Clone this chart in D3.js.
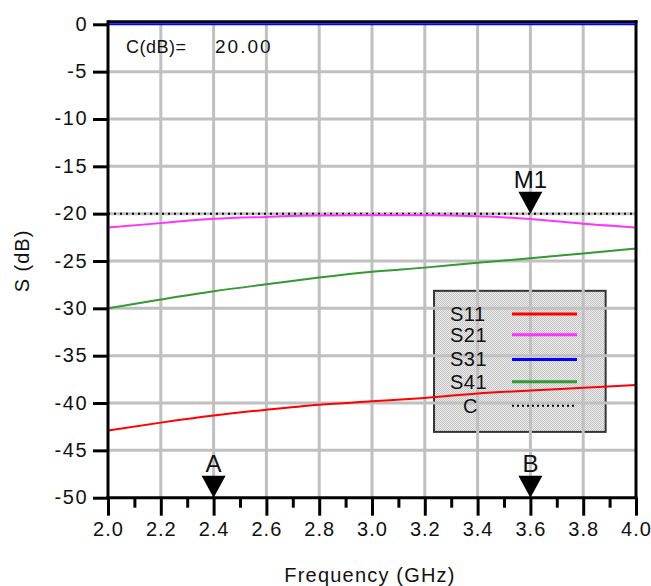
<!DOCTYPE html>
<html><head><meta charset="utf-8">
<script src="https://cdn.jsdelivr.net/npm/d3@7"></script>
<style>
html,body{margin:0;padding:0;background:#fff;}
text{font-family:"Liberation Sans",Arial,sans-serif;fill:#111;}
</style></head>
<body><svg id="c" width="651" height="586"></svg>
<script>
const freq = [2.0,2.2,2.4,2.6,2.8,3.0,3.2,3.4,3.6,3.8,4.0];
const s11 = [-42.9,-42.07,-41.32,-40.71,-40.18,-39.82,-39.46,-39.0,-38.68,-38.39,-38.1];
const s21 = [-21.46,-21.0,-20.54,-20.34,-20.2,-20.18,-20.18,-20.27,-20.57,-21.07,-21.46];
const s31 = [0,0,0,0,0,0,0,0,0,0,0];
const s41 = [-30.0,-29.07,-28.2,-27.46,-26.75,-26.14,-25.7,-25.18,-24.72,-24.2,-23.68];
const cLevel = -20;
const xTicks = [2.0,2.2,2.4,2.6,2.8,3.0,3.2,3.4,3.6,3.8,4.0];
const xMinor = [2.1,2.3,2.5,2.7,2.9,3.1,3.3,3.5,3.7,3.9];
const yTicks = [0,-5,-10,-15,-20,-25,-30,-35,-40,-45,-50];
const seriesNames = ["S11","S21","S31","S41","C"];
const seriesColors = ["#ff0000","#ff33ff","#0000ff","#339933","#000000"];
const markers = [{name:"A",f:2.4,v:-50},{name:"B",f:3.6,v:-50},{name:"M1",f:3.6,v:-20}];
const readoutLabel = "C(dB)=";
const readoutValue = "20.00";

const svg = d3.select("#c");
const x = d3.scaleLinear().domain([2.0,4.0]).range([108,636]);
const y = d3.scaleLinear().domain([0,-50]).range([24.3,497.7]);

const defs = svg.append("defs");
const pat = defs.append("pattern").attr("id","hatch").attr("width",2).attr("height",2).attr("patternUnits","userSpaceOnUse");
pat.append("rect").attr("width",2).attr("height",2).attr("fill","#ececec");
pat.append("rect").attr("width",1).attr("height",1).attr("fill","#c4c4c4");
pat.append("rect").attr("x",1).attr("y",1).attr("width",1).attr("height",1).attr("fill","#c4c4c4");

const legX0 = x(3.235), legX1 = x(3.885), legY0 = y(-28.15), legY1 = y(-43.05);
svg.append("rect").attr("x",legX0).attr("y",legY0).attr("width",legX1-legX0).attr("height",legY1-legY0)
  .attr("fill","url(#hatch)").attr("stroke","#333").attr("stroke-width",2);

const grid = svg.append("g").attr("stroke","#c0c0c0").attr("stroke-width",3);
xTicks.slice(1,-1).forEach(t=>grid.append("line").attr("x1",x(t)).attr("x2",x(t)).attr("y1",y(0)).attr("y2",y(-50)));
yTicks.slice(1,-1).forEach(t=>grid.append("line").attr("x1",x(2)).attr("x2",x(4)).attr("y1",y(t)).attr("y2",y(t)));

svg.append("line").attr("x1",x(2)).attr("x2",x(4)).attr("y1",y(cLevel)).attr("y2",y(cLevel))
  .attr("stroke","#000").attr("stroke-width",2).attr("stroke-dasharray","2,4");

const line = d3.line().x((d,i)=>x(freq[i])).y(d=>y(d)).curve(d3.curveMonotoneX);
[s11,s21,s41].forEach((s,k)=>{
  const col = [seriesColors[0],seriesColors[1],seriesColors[3]][k];
  svg.append("path").attr("d",line(s)).attr("fill","none").attr("stroke",col).attr("stroke-width",2);
});

svg.append("line").attr("x1",x(2)).attr("x2",x(4)+1.5).attr("y1",y(0)-2.5).attr("y2",y(0)-2.5).attr("stroke","#000").attr("stroke-width",3);
svg.append("line").attr("x1",x(4)).attr("x2",x(4)).attr("y1",y(0)-4).attr("y2",y(-50)).attr("stroke","#000").attr("stroke-width",3);
svg.append("path").attr("d",line(s31)).attr("fill","none").attr("stroke",seriesColors[2]).attr("stroke-width",2);

const yAxis = d3.axisLeft(y).tickValues(yTicks).tickSize(15).tickFormat(d=>String(d));
const gy = svg.append("g").attr("transform",`translate(${x(2)},0)`).call(yAxis);
gy.select(".domain").attr("stroke","#000").attr("stroke-width",3).attr("d",`M0,${y(0)-4}V${y(-50)+1.5}`);
gy.selectAll(".tick line").attr("stroke","#000").attr("stroke-width",3);
gy.selectAll(".tick text").attr("x",-20).attr("dy","0.3em").style("font-size","20px").style("letter-spacing","1.5px")
  .style("font-family","'Liberation Sans',Arial,sans-serif").attr("fill","#111");

const xAxis = d3.axisBottom(x).tickValues(xTicks).tickSize(18).tickFormat(d3.format(".1f"));
const gx = svg.append("g").attr("transform",`translate(0,${y(-50)})`).call(xAxis);
gx.select(".domain").attr("stroke","#000").attr("stroke-width",3).attr("d",`M${x(2)-1.5},0H${x(4)+1.5}`);
gx.selectAll(".tick line").attr("stroke","#000").attr("stroke-width",3);
gx.selectAll(".tick text").attr("y",24).attr("dy","0.71em").style("font-size","20px").style("letter-spacing","1px")
  .style("font-family","'Liberation Sans',Arial,sans-serif").attr("fill","#111");
const xAxisMinor = d3.axisBottom(x).tickValues(xMinor).tickSize(10).tickFormat("");
const gxm = svg.append("g").attr("transform",`translate(0,${y(-50)})`).call(xAxisMinor);
gxm.select(".domain").remove();
gxm.selectAll(".tick line").attr("stroke","#000").attr("stroke-width",3);

svg.append("text").attr("x",(x(2)+x(4))/2-2).attr("y",582).attr("text-anchor","middle")
  .style("font-size","20px").style("letter-spacing","1.2px").text("Frequency (GHz)");
svg.append("text").attr("transform",`translate(29,${(y(0)+y(-50))/2})rotate(-90)`).attr("text-anchor","middle")
  .style("font-size","20px").style("letter-spacing","1px").text("S (dB)");

svg.append("text").attr("x",126).attr("y",53).style("font-size","18px").style("letter-spacing","0.5px").text(readoutLabel);
svg.append("text").attr("x",215).attr("y",53).style("font-size","19px").style("letter-spacing","2px").text(readoutValue);

const legYs = [-30.6,-32.8,-35.4,-37.75,-40.3];
seriesNames.forEach((n,i)=>{
  const yy = y(legYs[i]);
  svg.append("text").attr("x", n==="C"?463:450).attr("y",yy+7).style("font-size","20px").style("letter-spacing","0.5px").text(n);
  const l = svg.append("line").attr("x1",512).attr("x2",577).attr("y1",yy).attr("y2",yy)
    .attr("stroke",seriesColors[i]).attr("stroke-width",n==="C"?2:3);
  if(n==="C") l.attr("stroke-dasharray","2,3");
});

markers.forEach(m=>{
  const mx = x(m.f), my = y(m.v);
  svg.append("path").attr("d",`M${mx-12},${my-22}H${mx+12}L${mx},${my}Z`).attr("fill","#000");
  svg.append("text").attr("x",mx).attr("y",my-26).attr("text-anchor","middle").style("font-size","24px").text(m.name);
});
</script></body></html>
